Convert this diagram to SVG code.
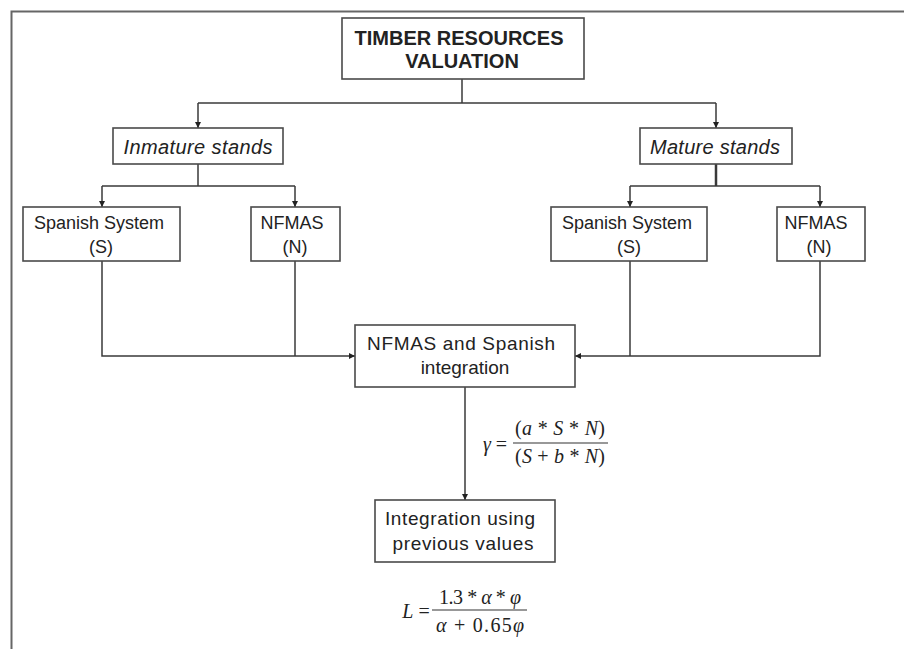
<svg xmlns="http://www.w3.org/2000/svg" width="904" height="649" viewBox="0 0 904 649">
<style>
.box{fill:#fff;stroke:#4a4a4a;stroke-width:1.6}
.t{font-family:"Liberation Sans",Arial,sans-serif;font-size:18px;fill:#222;text-anchor:middle}
.b{font-weight:bold;font-size:20px}
.i{font-style:italic;font-size:20px}
.ln{fill:none;stroke:#3a3a3a;stroke-width:1.5}
.m{font-family:"Liberation Serif","Times New Roman",serif;font-size:20px;fill:#222;text-anchor:middle}
.it{font-style:italic}
</style>
<defs>
<marker id="ah" viewBox="0 0 10 10" refX="10" refY="5" markerWidth="6" markerHeight="6" orient="auto" markerUnits="userSpaceOnUse">
<path d="M0,0 L10,5 L0,10 Z" fill="#222"/>
</marker>
</defs>
<rect width="904" height="649" fill="#fff"/>
<path d="M11.5,649 V11.5 H904" fill="none" stroke="#666" stroke-width="2"/>
<g id="connectors">
<path class="ln" d="M462,79 V103"/>
<path class="ln" d="M198,103 H716"/>
<path class="ln" d="M198,103 V128" marker-end="url(#ah)"/>
<path class="ln" d="M716,103 V128" marker-end="url(#ah)"/>
<path class="ln" d="M198,164 V186 M102,186 H295"/>
<path class="ln" d="M102,186 V207" marker-end="url(#ah)"/>
<path class="ln" d="M295,186 V207" marker-end="url(#ah)"/>
<path class="ln" d="M716,164 V186" style="stroke-width:2.5"/>
<path class="ln" d="M630,186 H820"/>
<path class="ln" d="M630,186 V207" marker-end="url(#ah)"/>
<path class="ln" d="M820,186 V207" marker-end="url(#ah)"/>
<path class="ln" d="M102,261 V356 H355" marker-end="url(#ah)"/>
<path class="ln" d="M295,261 V356"/>
<path class="ln" d="M820,261 V356 H575" marker-end="url(#ah)"/>
<path class="ln" d="M630,261 V356"/>
<path class="ln" d="M465,387 V500" marker-end="url(#ah)"/>
</g>
<g id="timber">
<rect class="box" x="342" y="18" width="242" height="61"/>
<text class="t b" x="459" y="45" textLength="209">TIMBER RESOURCES</text>
<text class="t b" x="462" y="68">VALUATION</text>
</g>
<g id="inmature">
<rect class="box" x="113" y="128" width="170" height="36"/>
<text class="t i" x="198" y="154" textLength="149">Inmature stands</text>
</g>
<g id="mature">
<rect class="box" x="640" y="128" width="152" height="36"/>
<text class="t i" x="715" y="154" textLength="130">Mature stands</text>
</g>
<g id="spanish-left">
<rect class="box" x="23" y="207" width="157" height="54"/>
<text class="t" x="99" y="229">Spanish System</text>
<text class="t" x="101" y="253">(S)</text>
</g>
<g id="nfmas-left">
<rect class="box" x="251" y="207" width="89" height="54"/>
<text class="t" x="292" y="229">NFMAS</text>
<text class="t" x="295" y="253">(N)</text>
</g>
<g id="spanish-right">
<rect class="box" x="551" y="207" width="156" height="54"/>
<text class="t" x="627" y="229">Spanish System</text>
<text class="t" x="629" y="253">(S)</text>
</g>
<g id="nfmas-right">
<rect class="box" x="777" y="207" width="88" height="54"/>
<text class="t" x="816" y="229">NFMAS</text>
<text class="t" x="819" y="253">(N)</text>
</g>
<g id="integration">
<rect class="box" x="355" y="325" width="220" height="62"/>
<text class="t" x="461" y="350" style="font-size:19px" textLength="188">NFMAS and Spanish</text>
<text class="t" x="465" y="374" style="font-size:19px">integration</text>
</g>
<g id="previous">
<rect class="box" x="375" y="500" width="180" height="62"/>
<text class="t" x="460" y="525" style="font-size:19px" textLength="150">Integration using</text>
<text class="t" x="463" y="550" style="font-size:19px" textLength="141">previous values</text>
</g>
<g id="formula-gamma">
<text class="m" x="495" y="451"><tspan class="it">γ</tspan> =</text>
<line x1="513" y1="443" x2="608" y2="443" stroke="#333" stroke-width="1.2"/>
<text class="m" x="560" y="435" textLength="90">(<tspan class="it">a</tspan> * <tspan class="it">S</tspan> * <tspan class="it">N</tspan>)</text>
<text class="m" x="560" y="463" textLength="90">(<tspan class="it">S</tspan> + <tspan class="it">b</tspan> * <tspan class="it">N</tspan>)</text>
</g>
<g id="formula-L">
<text class="m" x="416" y="618"><tspan class="it">L</tspan> =</text>
<line x1="432" y1="610" x2="527" y2="610" stroke="#333" stroke-width="1.2"/>
<text class="m" x="480" y="604" textLength="82">1.3 * <tspan class="it">α</tspan> * <tspan class="it">φ</tspan></text>
<text class="m" x="480" y="632" textLength="88"><tspan class="it">α</tspan> + 0.65<tspan class="it">φ</tspan></text>
</g>
</svg>
